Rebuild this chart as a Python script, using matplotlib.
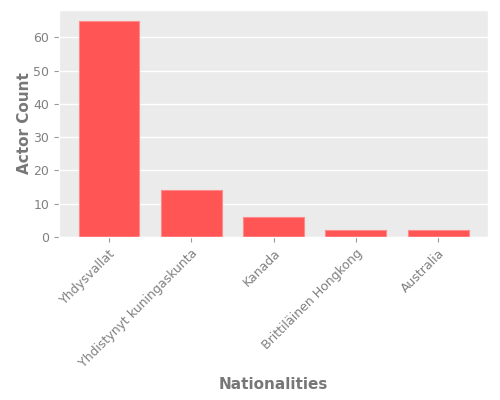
import numpy as np
import matplotlib
matplotlib.use('Agg')
import matplotlib.pyplot as plt

plt.style.use('ggplot')

nationalities = ['Yhdysvallat', 'Yhdistynyt kuningaskunta', 'Kanada',
                 'Brittiläinen Hongkong', 'Australia']
counts = [65, 14, 6, 2, 2]

fig = plt.figure(figsize=(5, 4), dpi=100)
ax = fig.add_axes([0.118, 0.4075, 0.858, 0.5675])
ax.set_facecolor('#EBEBEB')

x = np.arange(len(nationalities))
ax.bar(x, counts, width=0.74, color='#FF5555', edgecolor='#FF8A8A', linewidth=0.8)

ax.set_xticks(x)
ax.set_xticklabels(nationalities, rotation=45, ha='right', rotation_mode='anchor',
                   fontsize=9, color='#808080')
ax.tick_params(axis='y', labelsize=9, labelcolor='#808080', color='#999999')
ax.tick_params(axis='x', color='#999999')
ax.grid(axis='x', visible=False)
ax.grid(axis='y', color='white', linewidth=1)
ax.set_ylim(0, 68.25)

ax.set_xlabel('Nationalities', fontsize=11, fontweight='bold', color='#777777', labelpad=5)
ax.set_ylabel('Actor Count', fontsize=11, fontweight='bold', color='#777777', labelpad=1)

fig.savefig('out.png', dpi=100)
